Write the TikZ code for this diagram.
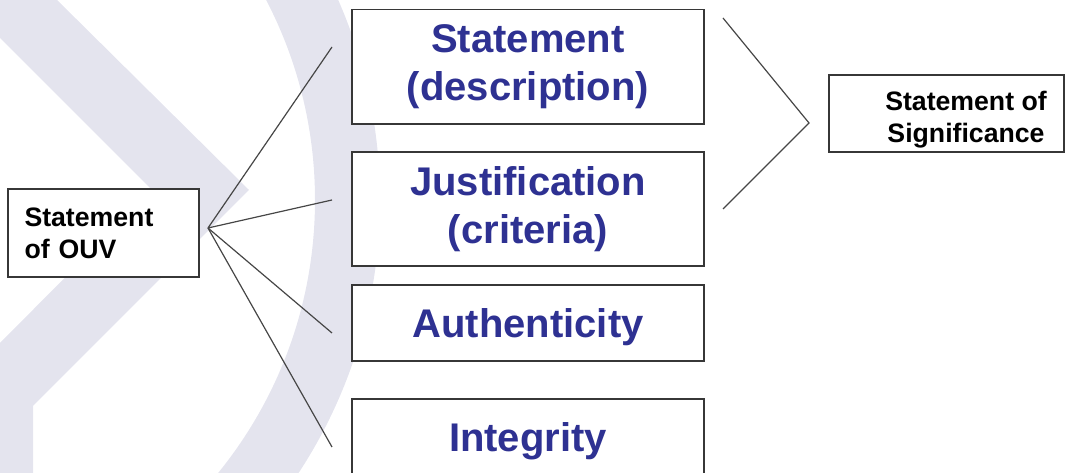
\documentclass[tikz,border=0pt]{standalone}
\usepackage{fontspec}
\setsansfont{Liberation Sans}
\usepackage{xcolor}
\usetikzlibrary{calc}
\definecolor{markgray}{RGB}{228,228,238}
\definecolor{titleblue}{RGB}{46,49,146}
\definecolor{framegray}{RGB}{55,55,55}
\definecolor{linegray}{RGB}{70,70,70}

\begin{document}
\begin{tikzpicture}[x=0.75pt, y=-0.75pt,
    frame/.style={draw=framegray, line width=1.2pt, fill=white, inner sep=0pt},
    bigbox/.style={frame, minimum width=264pt, align=center, text=titleblue,
        font=\sffamily\bfseries\fontsize{30}{35.6}\selectfont},
    smallbox/.style={frame, font=\sffamily\bfseries\fontsize{20}{24}\selectfont},
    spoke/.style={draw=linegray, line width=0.9pt}]
    % Page
    \useasboundingbox (0,0) rectangle (1065,473);
    \clip (0,0) rectangle (1065,473);

    % Watermark
    \fill[markgray] (-5,-5) -- (52,-5) -- (249,190) -- (33,406) -- (33,480)
        -- (-5,480) -- (-5,348) -- (152,190) -- (-5,33) -- cycle;
    \fill[markgray, even odd rule] (-118,200) circle[radius=373.5pt]
        (-118,200) circle[radius=324.75pt];

    % Fan towards the four parts
    \coordinate (hub) at (208,228);
    \foreach \y [count=\i] in {47,200,333,447} {
        \coordinate (tip\i) at (332,\y);
        \draw[spoke] (hub) -- (tip\i);
    }

    % Bracket towards significance
    \coordinate (top) at (723,18);
    \coordinate (merge) at (809,123);
    \coordinate (bot) at (723,209);
    \draw[spoke] (top) -- (merge) -- (bot);

    % Boxes
    \node[smallbox, minimum width=143.25pt, minimum height=66pt,
        text width=118.5pt, align=left] (ouv) at (103.5,233) {Statement\\of OUV};
    \node[bigbox, minimum height=85.9pt] (descr) at (528,66.75) {Statement\\(description)};
    \node[bigbox, minimum height=85.5pt] (crit) at (528,209) {Justification\\(criteria)};
    \node[bigbox, minimum height=57pt, text depth=0pt] (auth) at (528,323) {Authenticity};
    \node[bigbox, minimum height=57pt, text depth=0pt] (integ) at (528,437) {Integrity};

    % Significance
    \node[smallbox, minimum width=176.25pt, minimum height=57.75pt] (signif) at (946.5,113.5) {};
    \node[font=\sffamily\bfseries\fontsize{20}{24}\selectfont, align=center, inner sep=0pt]
        (signiftext) at ($(signif.center)+(19.5,6.5)$) {Statement of\\Significance};
\end{tikzpicture}
\end{document}
